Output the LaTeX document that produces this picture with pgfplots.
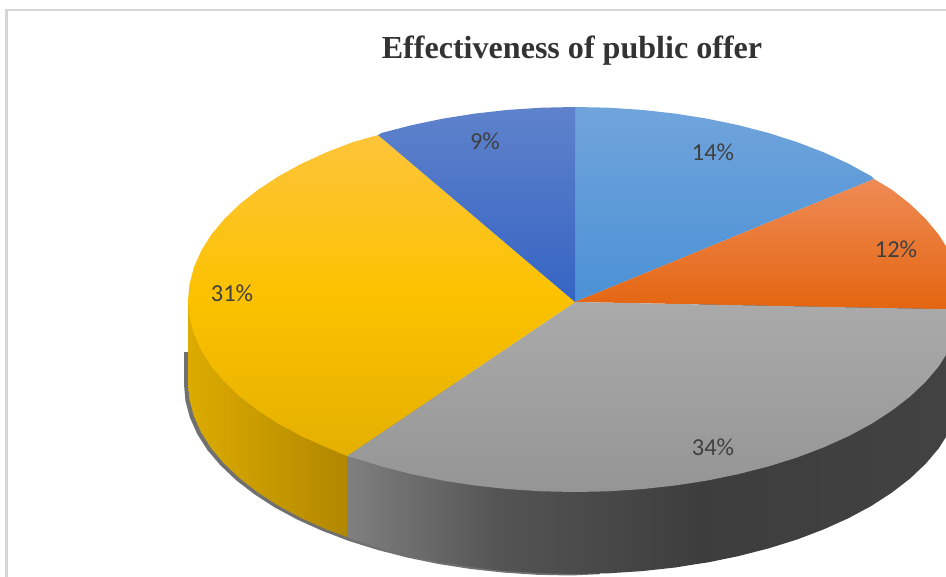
\documentclass[border=0pt]{standalone}
\usepackage{fontspec}
\setmainfont{Carlito}
\newfontfamily\titlefont{Liberation Serif}
\usepackage{pgfplots}
\pgfplotsset{compat=1.18}
\definecolor{labelgrey}{HTML}{404040}
\definecolor{titlegrey}{HTML}{333333}
\begin{document}
\begin{tikzpicture}
\useasboundingbox (0,0) rectangle (946bp,577bp);
\begin{axis}[
  at={(0,0)}, anchor=south west,
  scale only axis, width=946bp, height=577bp,
  xmin=0, xmax=946, ymin=0, ymax=577, y dir=reverse,
  hide axis, clip=true,
]
% frame of the chart area
\addplot[color=black!16, line width=2.2bp, no marks] coordinates {(6.5,577)(6.5,10)(946,10)};

% soft shadow under the cylinder wall
\addplot[draw=none, fill=black!56, no marks] coordinates {
 (600,400)(600,574.2)(571,575.5)(537.3,574.8)(503.8,572.6)(470.8,569)(438.6,564)(407.5,557.6)(377.5,549.9)(349,541)
 (322.2,530.8)(297.3,519.6)(274.5,507.3)(254,494)(235.9,480)(220.3,465.2)(207.3,449.9)(197.2,433.9)
 (189.9,417.6)(185.5,401.1)(184,384.5)(184,352)(188,352)} -- cycle;

% outer wall: yellow slice
\addplot[draw=none, left color={rgb,255:red,220;green,171;blue,0}, right color={rgb,255:red,177;green,135;blue,0}, no marks] coordinates {
 (188,301)(188,383)(189.5,399.6)(193.9,416.1)(201.2,432.4)(211.3,448.4)(224.3,463.7)(239.9,478.5)(258,492.5)
 (278.5,505.8)(301.3,518.1)(326.2,529.3)(347,537)(347,301)} -- cycle;

% outer wall: grey slice, in three spans
\addplot[draw=none, left color=black!50, right color=black!67, no marks] coordinates {
 (347,400)(347,537)(353,539.5)(381.5,548.4)(411.5,556.1)(442.6,562.5)(474.8,567.5)(500,570.5)(500,400)} -- cycle;
\addplot[draw=none, left color=black!67, right color=black!76, no marks] coordinates {
 (499.5,400)(499.5,570.5)(507.8,571.1)(541.3,573.3)(575,574)(608.7,573.3)(642.2,571.1)(675.2,567.5)(700,563.5)(700,400)} -- cycle;
\addplot[draw=none, left color=black!76, right color=black!74, no marks] coordinates {
 (699.5,300)(699.5,563.5)(707.4,562.5)(738.5,556.1)(768.5,548.4)(797,539.5)(823.8,529.3)(848.7,518.1)(871.5,505.8)
 (892,492.5)(910.1,478.5)(925.7,463.7)(938.7,448.4)(948.8,432.4)(956.1,416.1)(960.5,399.6)(962,383)(962,300)} -- cycle;

% top face, slice of 14%
\addplot[draw=none, top color={rgb,255:red,112;green,164;blue,219}, bottom color={rgb,255:red,75;green,145;blue,214}, no marks] coordinates {
 (575,302)(575,107)(608.7,107.7)(642.2,109.9)(675.2,113.6)(707.4,118.7)(738.5,125.2)(768.5,133)(797,142.1)
 (823.8,152.4)(848.7,163.8)(871.5,176.3)(874,179)} -- cycle;

% top face, slice of 12%
\addplot[draw=none, top color={rgb,255:red,238;green,139;blue,85}, bottom color={rgb,255:red,228;green,101;blue,16}, no marks] coordinates {
 (575,302)(874,179)(892,189.8)(910.1,204)(925.7,219.1)(938.7,234.6)(948.8,250.8)(956.1,267.4)(960.5,284.1)(962,301)(961.6,309.5)} -- cycle;

% top face, slice of 34%
\addplot[draw=none, top color={rgb,255:red,170;green,170;blue,170}, bottom color={rgb,255:red,149;green,149;blue,149}, no marks] coordinates {
 (575,302)(961.6,309.5)(960.5,317.6)(956.1,334.1)(948.8,350.4)(938.7,366.4)(925.7,381.7)(910.1,396.5)(892,410.5)
 (871.5,423.8)(848.7,436.1)(823.8,447.3)(797,457.5)(768.5,466.4)(738.5,474.1)(707.4,480.5)(675.2,485.5)
 (642.2,489.1)(608.7,491.3)(575,492)(541.3,491.3)(507.8,489.1)(474.8,485.5)(442.6,480.5)(411.5,474.1)
 (381.5,466.4)(353,457.5)(347,456)} -- cycle;

% top face, slice of 31%
\addplot[draw=none, top color={rgb,255:red,253;green,196;blue,58}, bottom color={rgb,255:red,228;green,176;blue,0}, middle color={rgb,255:red,252;green,194;blue,0}, no marks] coordinates {
 (575,302)(347,456)(326.2,447.3)(301.3,436.1)(278.5,423.8)(258,410.5)(239.9,396.5)(224.3,381.7)(211.3,366.4)
 (201.2,350.4)(193.9,334.1)(189.5,317.6)(188,301)(189.5,284.1)(193.9,267.4)(201.2,250.8)(211.3,234.6)
 (224.3,219.1)(239.9,204)(258,189.8)(278.5,176.3)(301.3,163.8)(326.2,152.4)(353,142.1)(378,135)} -- cycle;

% top face, slice of 9%
\addplot[draw=none, top color={rgb,255:red,95;green,130;blue,203}, bottom color={rgb,255:red,52;green,100;blue,195}, no marks] coordinates {
 (575,302)(378,135)(381.5,133)(411.5,125.2)(442.6,118.7)(474.8,113.6)(507.8,109.9)(541.3,107.7)(575,107)} -- cycle;

\node[text=labelgrey, font=\fontsize{24.5}{28}\selectfont] at (axis cs:713,152) {14\%};
\node[text=labelgrey, font=\fontsize{24.5}{28}\selectfont] at (axis cs:896,249) {12\%};
\node[text=labelgrey, font=\fontsize{24.5}{28}\selectfont] at (axis cs:713,447) {34\%};
\node[text=labelgrey, font=\fontsize{24.5}{28}\selectfont] at (axis cs:232,293) {31\%};
\node[text=labelgrey, font=\fontsize{24.5}{28}\selectfont] at (axis cs:485,141) {9\%};
\node[text=titlegrey, font=\titlefont\bfseries\fontsize{32.2}{36}\selectfont] at (axis cs:572,51) {Effectiveness of public offer};
\end{axis}
\end{tikzpicture}
\end{document}
